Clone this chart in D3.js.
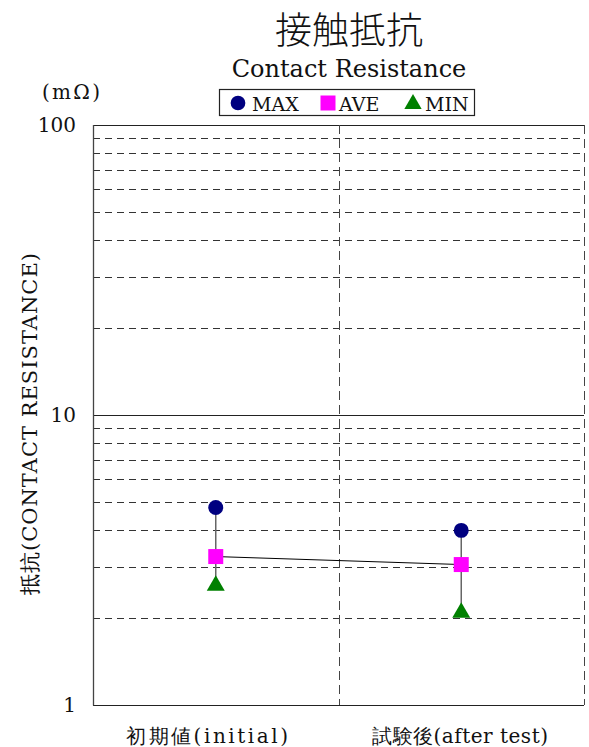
<!DOCTYPE html>
<html><head><meta charset="utf-8">
<script src="https://cdn.jsdelivr.net/npm/d3@7"></script>
<style>body{margin:0;background:#fff}svg{display:block}
text.sf{font-family:"DejaVu Serif"}
text.cjk{font-family:"Noto Sans CJK JP"}
</style>
</head><body>
<script>
const categories = ["初期値(initial)", "試験後(after test)"];
const maxValues = [4.8, 4.0];
const aveValues = [3.25, 3.05];
const minValues = [2.6, 2.1];
const yTicks = [1, 10, 100];
const seriesNames = ["MAX", "AVE", "MIN"];
const seriesColors = ["#000080", "#ff00ff", "#008000"];

const W = 589, H = 747;
const svg = d3.select("body").append("svg").attr("width", W).attr("height", H);

const x = d3.scaleBand().domain(categories).range([93, 584]).padding(0);
const y = d3.scaleLog().domain([1, 100]).range([705, 125]);

const minor = [];
for (let d = 1; d <= 10; d *= 10) for (let k = 2; k <= 9; k++) minor.push(k * d);
svg.append("g").selectAll("line").data(minor).join("line")
  .attr("x1", 93).attr("x2", 584)
  .attr("y1", d => Math.round(y(d)) + 0.5).attr("y2", d => Math.round(y(d)) + 0.5)
  .attr("stroke", "#333").attr("stroke-width", 1).attr("stroke-dasharray", "7,5");
svg.append("g").selectAll("line").data(yTicks).join("line")
  .attr("x1", 93).attr("x2", 584)
  .attr("y1", d => Math.round(y(d)) + 0.5).attr("y2", d => Math.round(y(d)) + 0.5)
  .attr("stroke", "#222").attr("stroke-width", 1);
svg.append("g").selectAll("line").data(categories).join("line")
  .attr("x1", d => Math.round(x(d) + x.bandwidth()) + 0.5).attr("x2", d => Math.round(x(d) + x.bandwidth()) + 0.5)
  .attr("y1", 125).attr("y2", 705)
  .attr("stroke", "#444").attr("stroke-width", 1).attr("stroke-dasharray", "9,5");
svg.append("line").attr("x1", 93.5).attr("x2", 93.5).attr("y1", 125).attr("y2", 705.5)
  .attr("stroke", "#444").attr("stroke-width", 1.3);

svg.append("g").selectAll("text").data(yTicks).join("text").attr("class", "sf")
  .attr("x", 76).attr("y", d => y(d) + 7)
  .attr("text-anchor", "end").attr("font-size", 20)
  .attr("fill", "#111").text(d => d);

svg.append("g").selectAll("text").data(categories).join("text").attr("class", "sf")
  .attr("x", (d, i) => i === 0 ? 126 : 372).attr("y", 743)
  .attr("font-size", 20)
  .attr("textLength", (d, i) => i === 0 ? 162 : 176)
  .attr("fill", "#111")
  .text(d => d);

svg.append("text").attr("class", "sf").attr("x", 42).attr("y", 99)
  .attr("font-size", 20).attr("fill", "#111").attr("textLength", 58)
  .text("(mΩ)");

svg.append("text").attr("class", "sf").attr("transform", "translate(37,595) rotate(-90)")
  .attr("font-size", 21).attr("textLength", 342)
  .attr("fill", "#111").text("抵抗(CONTACT RESISTANCE)");

svg.append("text").attr("class", "cjk").attr("x", 349).attr("y", 44).attr("text-anchor", "middle")
  .attr("font-size", 37).attr("font-weight", 300)
  .attr("fill", "#111").text("接触抵抗");
svg.append("text").attr("class", "sf").attr("x", 349).attr("y", 77).attr("text-anchor", "middle")
  .attr("font-size", 24).attr("fill", "#111")
  .text("Contact Resistance");

const lg = svg.append("g");
lg.append("rect").attr("x", 219.5).attr("y", 89.5).attr("width", 255).attr("height", 26)
  .attr("fill", "#fff").attr("stroke", "#222").attr("stroke-width", 1.2);
const legX = [238, 328, 413];
const textX = [252, 339, 425];
const sym = [d3.symbolCircle, d3.symbolSquare, d3.symbolTriangle];
const symSize = [170, 225, 130];
seriesNames.forEach((n, i) => {
  lg.append("path").attr("d", d3.symbol().type(sym[i]).size(symSize[i])())
    .attr("transform", `translate(${legX[i]},${i === 2 ? 104 : 103})`)
    .attr("fill", seriesColors[i]);
  lg.append("text").attr("class", "sf").attr("x", textX[i]).attr("y", 111)
    .attr("font-size", 19).attr("fill", "#111").text(n);
});

const cx = d => x(d) + x.bandwidth() / 2;
const dataG = svg.append("g");
dataG.selectAll("line.hl").data(categories).join("line").attr("class", "hl")
  .attr("x1", cx).attr("x2", cx)
  .attr("y1", (d, i) => y(maxValues[i])).attr("y2", (d, i) => y(minValues[i]))
  .attr("stroke", "#666").attr("stroke-width", 1.5);
dataG.append("path")
  .attr("d", d3.line().x((d, i) => cx(categories[i])).y(d => y(d))(aveValues))
  .attr("fill", "none").attr("stroke", "#000").attr("stroke-width", 1);
const vals = [maxValues, aveValues, minValues];
vals.forEach((arr, s) => {
  dataG.append("g").selectAll("path").data(arr).join("path")
    .attr("d", d3.symbol().type(sym[s]).size(s === 0 ? 175 : s === 1 ? 225 : 140)())
    .attr("transform", (d, i) => `translate(${cx(categories[i])},${y(d) + (s === 2 ? 1 : 0)})`)
    .attr("fill", seriesColors[s]);
});
</script>
</body></html>
